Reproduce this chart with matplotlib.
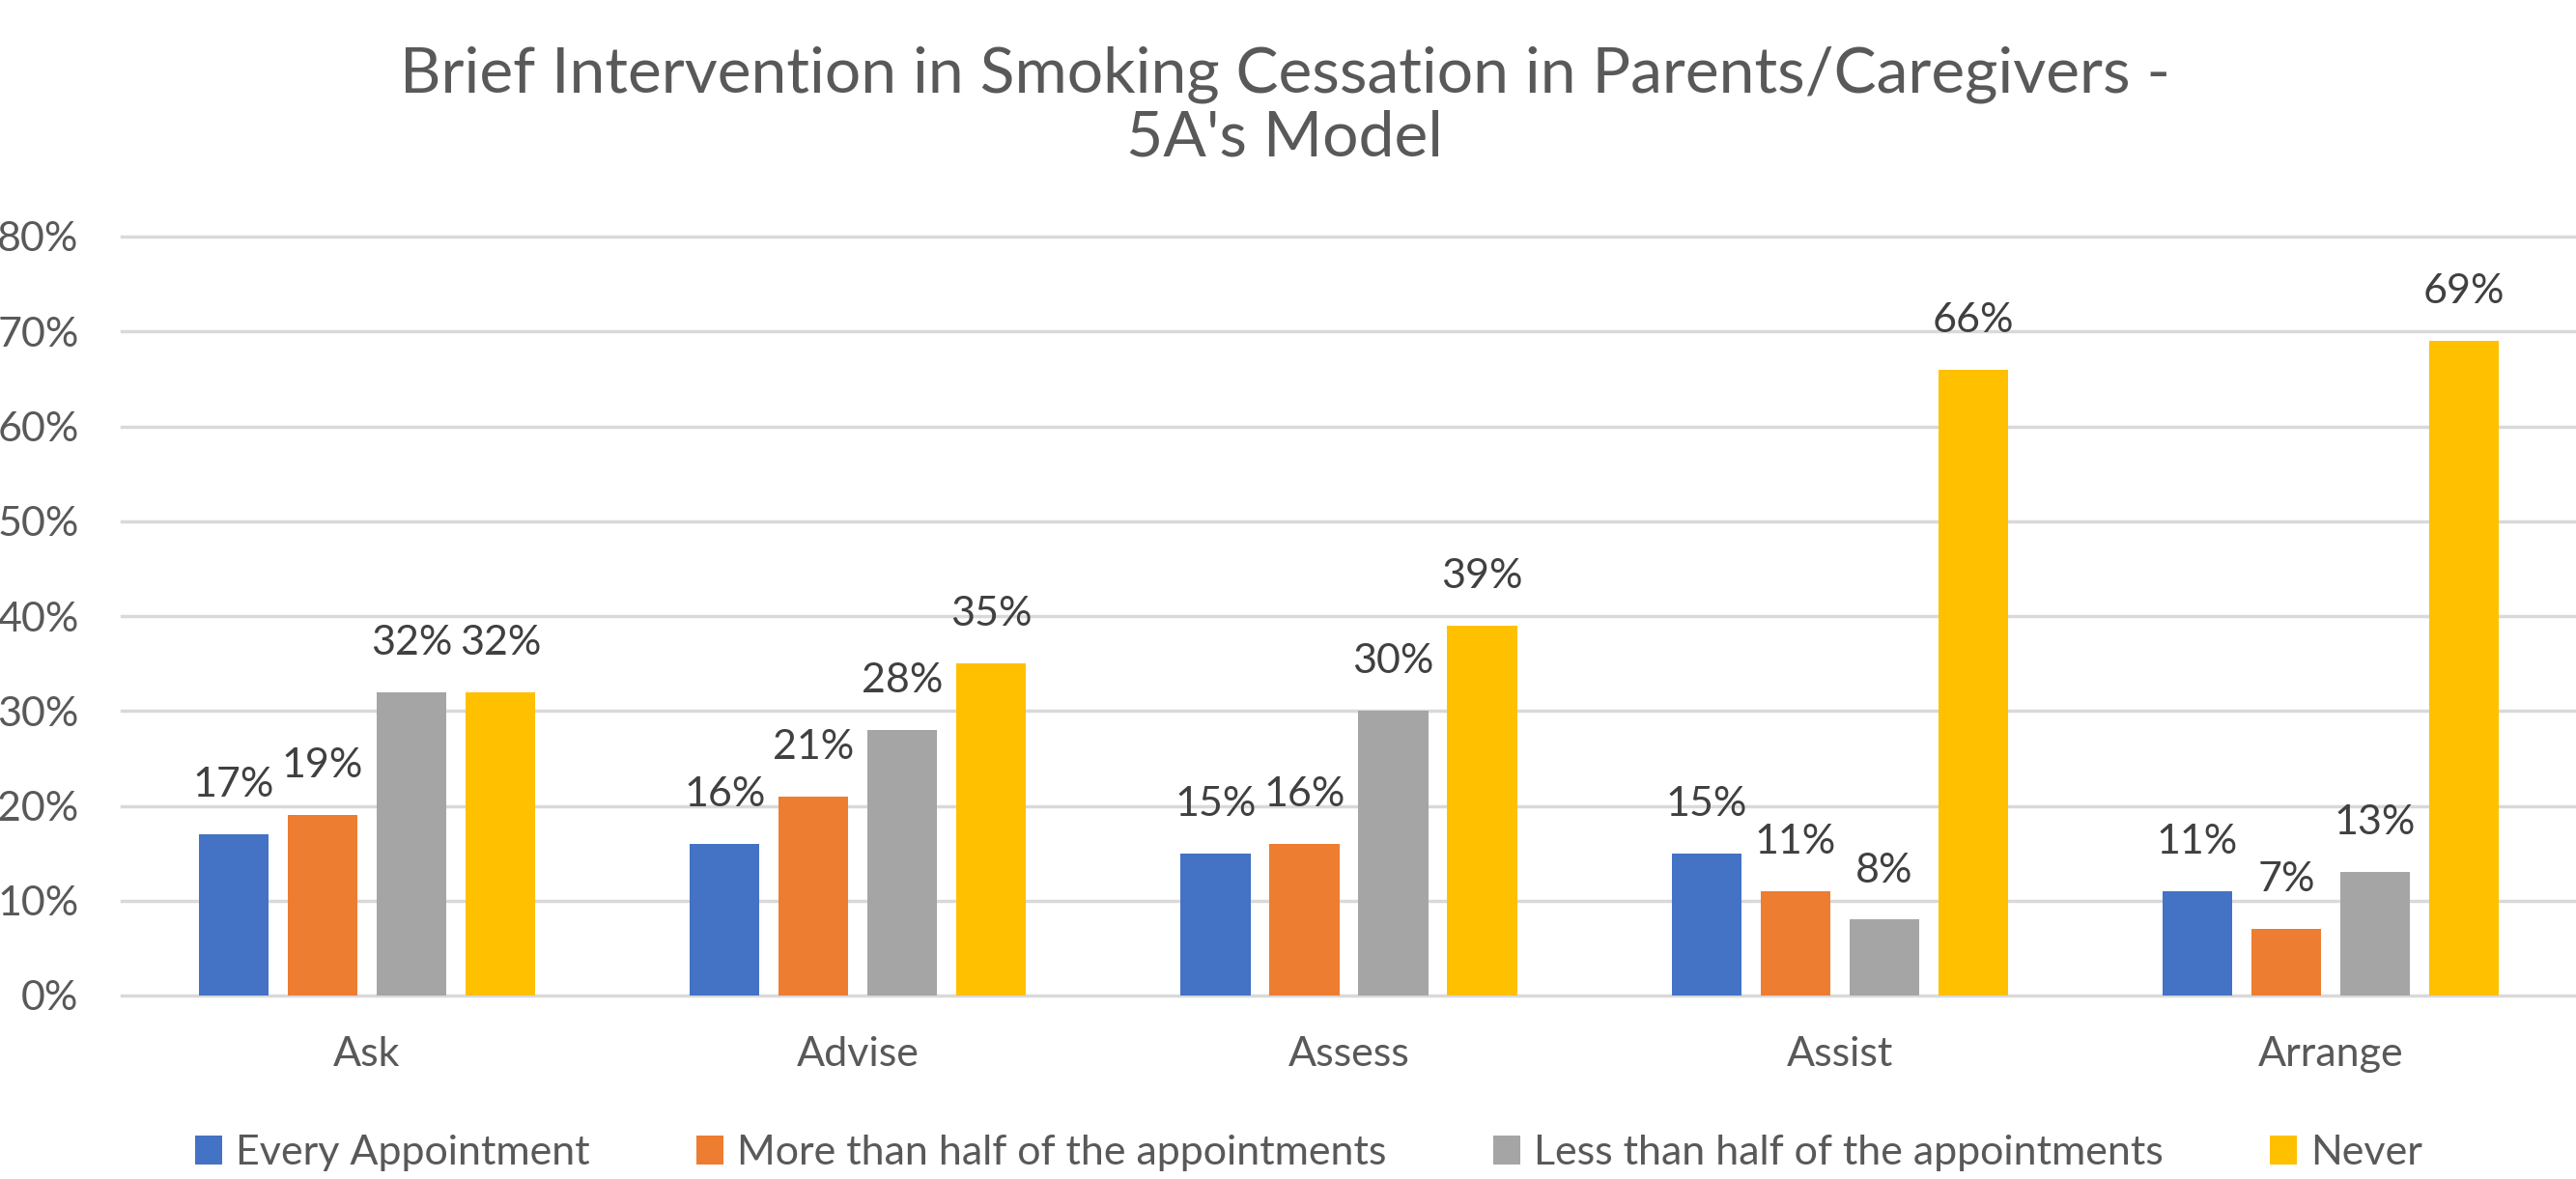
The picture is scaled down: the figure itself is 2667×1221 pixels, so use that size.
import matplotlib
matplotlib.use("Agg")
import matplotlib.pyplot as plt
import numpy as np

categories = ["Ask", "Advise", "Assess", "Assist", "Arrange"]
series_names = ["Every Appointment", "More than half of the appointments",
                "Less than half of the appointments", "Never"]
every_appt = [17, 16, 15, 15, 11]
more_half = [19, 21, 16, 11, 7]
less_half = [32, 28, 30, 8, 13]
never = [32, 35, 39, 66, 69]
y_ticks = [0, 10, 20, 30, 40, 50, 60, 70, 80]
y_tick_labels = ["0%", "10%", "20%", "30%", "40%", "50%", "60%", "70%", "80%"]
title = "Brief Intervention in Smoking Cessation in Parents/Caregivers -\n5A's Model"

colors = ["#4472C4", "#ED7D31", "#A5A5A5", "#FFC000"]
FONT = ["Lato", "DejaVu Sans"]
plt.rcParams['font.family'] = FONT

W, H = 2667, 1221
fig = plt.figure(figsize=(W / 100, H / 100), dpi=100)
ax = fig.add_axes([126 / W, 190 / H, 1 - 126 / W, (1031 - 245) / H])

series = [every_appt, more_half, less_half, never]
x = np.arange(len(categories))
pitch = 0.181
width = 0.142
for i, (vals, c, name) in enumerate(zip(series, colors, series_names)):
    pos = x + (i - 1.5) * pitch
    bars = ax.bar(pos, vals, width, color=c, label=name, zorder=3)
    for b, v in zip(bars, vals):
        ax.annotate(f"{v}%", (b.get_x() + b.get_width() / 2, v),
                    xytext=(0, 28), textcoords="offset points",
                    ha="center", va="baseline", fontsize=31, color="#404040")

ax.set_xlim(-0.5, 4.5)
ax.set_ylim(0, 80)
ax.set_yticks(y_ticks)
ax.set_yticklabels(y_tick_labels)
ax.set_xticks(x)
ax.set_xticklabels(categories)
ax.tick_params(axis="y", length=0, pad=32, labelsize=31, labelcolor="#595959")
ax.tick_params(axis="x", length=0, pad=30, labelsize=31, labelcolor="#595959")
for s in ax.spines.values():
    s.set_visible(False)
ax.yaxis.grid(True, color="#D9D9D9", linewidth=2.5, zorder=0)
for gl in ax.get_ygridlines():
    gl.set_clip_on(False)

fig.text(1330 / W, 1 - 110 / H, title, ha="center", va="center",
         fontsize=47.5, color="#595959", linespacing=1.13)

leg = fig.legend(loc="center", bbox_to_anchor=(1355 / W, 27 / H), ncol=4,
                 frameon=False, fontsize=31, handlelength=0.64, handleheight=0.7,
                 handletextpad=0.33, columnspacing=2.57, labelcolor="#595959")

fig.savefig("out.png", dpi=100)
